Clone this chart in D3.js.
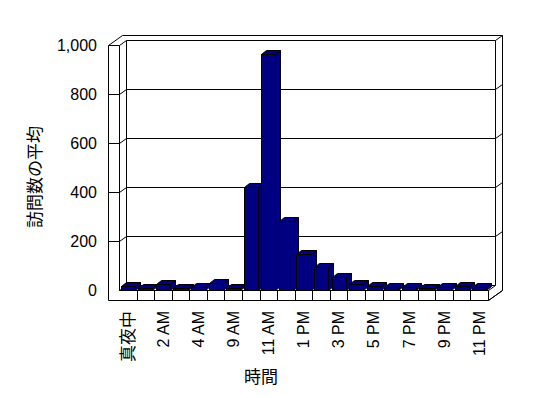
<!DOCTYPE html>
<html><head><meta charset="utf-8">
<script src="https://cdn.jsdelivr.net/npm/d3@7"></script>
<style>
html,body{margin:0;padding:0;background:#fff;}
svg{display:block;}
text{font-family:"Liberation Sans","Noto Sans CJK JP",sans-serif;fill:#000;}
</style></head>
<body>
<svg id="chart" width="548" height="398"></svg>
<script>
const categories = ["真夜中","1 AM","2 AM","3 AM","4 AM","5 AM","9 AM","10 AM","11 AM","12 PM","1 PM","2 PM","3 PM","4 PM","5 PM","6 PM","7 PM","8 PM","9 PM","10 PM","11 PM"];
const visits = [16, 8, 25, 8, 12, 30, 8, 420, 965, 282, 148, 95, 55, 25, 16, 12, 12, 10, 12, 16, 12];
const yTicks = [0, 200, 400, 600, 800, 1000];
const yTitle = "訪問数の平均";
const xTitle = "時間";

(function(){
const svg = d3.select("#chart");
const g = svg.append("g").attr("transform","translate(0.5,0.5)");

const pL = 119, pR = 488, pB = 290, pT = 45;
const ddx = 7, ddy = -5;      // depth of floor / walls
const wallT = 11;             // left wall thickness
const bdx = 5, bdy = -4;      // bar depth

const x = d3.scaleBand().domain(categories).range([pL, pR]).paddingInner(0.2).paddingOuter(0.1);
const y = d3.scaleLinear().domain([0, 1000]).range([pB, pT]);
const step = x.step();

const line = (pts, close) => "M" + pts.map(p => p.join(",")).join("L") + (close ? "Z" : "");
function path(d, fill){ return g.append("path").attr("d", d).attr("stroke","#000").attr("stroke-width",1).attr("fill", fill || "none"); }

const yb = v => y(v) + ddy;
const yTop = y(1000);
// outer silhouette
path(line([[pL-wallT, yTop],[pL-wallT+2*ddx, yTop+2*ddy],[pR+2*ddx, yTop+2*ddy],[pR+2*ddx, pB],[pR, pB+10],[pL-wallT, pB+10]], true), "#fff");
path(line([[pL-wallT, yTop],[pL, yTop],[pL+ddx, yTop+ddy],[pR+ddx, yTop+ddy],[pR+2*ddx, yTop+2*ddy]]));
path(line([[pL, yTop],[pL, pB]]));
path(line([[pL+ddx, yTop+ddy],[pL+ddx, pB+ddy]]));
path(line([[pR+ddx, yTop+ddy],[pR+ddx, pB+ddy]]));
path(line([[pL, pB],[pR, pB],[pR+ddx, pB+ddy]]));
path(line([[pL, pB],[pL+ddx, pB+ddy],[pR+ddx, pB+ddy]]));
path(line([[pR, pB],[pR, pB+10],[pR+2*ddx, pB]]));

// gridlines + left wall ticks
yTicks.filter(v => v > 0 && v < 1000).forEach(v => {
  path(line([[pL-wallT, y(v)],[pL, y(v)],[pL+ddx, yb(v)],[pR+ddx, yb(v)],[pR+2*ddx, yb(v)+ddy]]));
});

// category ticks on floor front face
categories.forEach((c, i) => {
  if (i === 0) return;
  const xx = Math.round(pL + i*step);
  path(line([[xx, pB],[xx, pB+10]]));
});

// bars
categories.forEach((c, i) => {
  const v = visits[i];
  const x0 = Math.round(x(c)), x1 = Math.round(x(c) + x.bandwidth());
  const yt = Math.round(y(v)), yB = pB;
  const bar = g.append("g");
  bar.append("path").attr("d", line([[x1, yB],[x1+bdx, yB+bdy],[x1+bdx, yt+bdy],[x1, yt]], true))
    .attr("fill","#000080").attr("stroke","#000");
  bar.append("path").attr("d", line([[x0, yt],[x0+bdx, yt+bdy],[x1+bdx, yt+bdy],[x1, yt]], true))
    .attr("fill","#000080").attr("stroke","#000");
  bar.append("rect").attr("x", x0).attr("y", yt).attr("width", x1-x0).attr("height", yB-yt)
    .attr("fill","#000080").attr("stroke","#000");
});

// y axis labels
const yAxis = d3.axisLeft(y).tickValues(yTicks).tickFormat(d3.format(",")).tickSize(0).tickPadding(0);
const ya = svg.append("g").attr("transform","translate(97,0)").call(yAxis);
ya.select(".domain").remove();
ya.selectAll("text").attr("font-size","16px").attr("dy","0.35em");
ya.attr("font-family",null).attr("font-size",null);

// x axis labels
const xAxis = d3.axisBottom(x).tickSize(0).tickPadding(0).tickFormat((d,i) => i % 2 === 0 ? d : "");
const xa = svg.append("g").attr("transform","translate(0,311)").call(xAxis);
xa.select(".domain").remove();
xa.attr("font-family",null).attr("font-size",null);
xa.selectAll("text").attr("font-size", d => /[^\x00-\x7f]/.test(d) ? "17px" : "16px")
  .attr("transform","rotate(-90)").attr("text-anchor","end").attr("x",0).attr("y",0).attr("dy","0.35em");

// titles
svg.append("text").attr("transform","translate(35,177) rotate(-90)").attr("text-anchor","middle").attr("dy","0.35em")
  .attr("font-size","17px").text(yTitle);
svg.append("text").attr("x",261).attr("y",377).attr("text-anchor","middle").attr("dy","0.35em")
  .attr("font-size","17px").text(xTitle);
})();
</script>
</body></html>
